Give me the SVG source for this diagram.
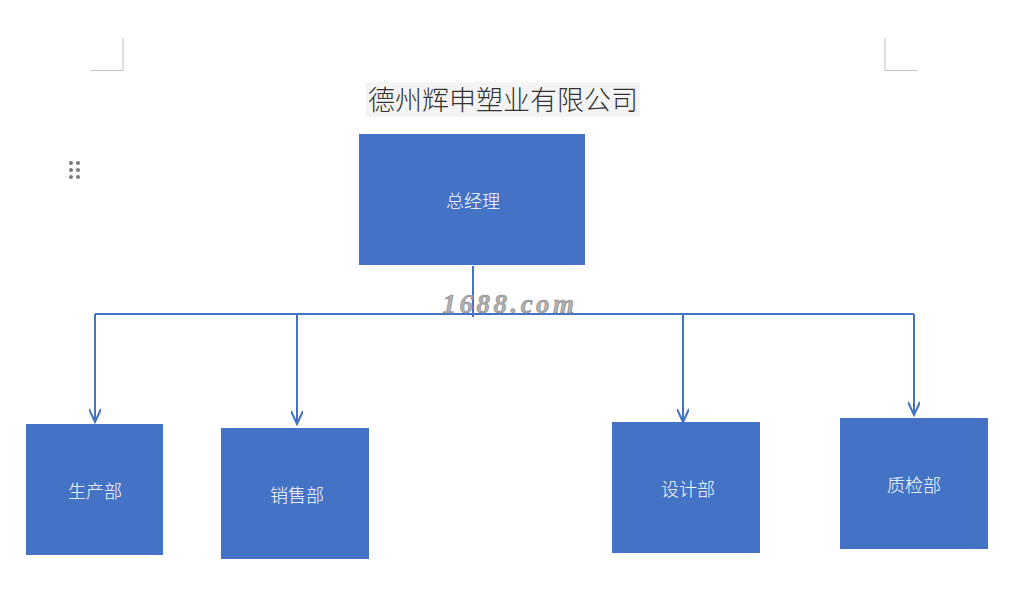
<svg xmlns="http://www.w3.org/2000/svg" width="1017" height="605" viewBox="0 0 1017 605">
<style>
.box{fill:#4472C4;}
.lbl{font-family:"Noto Sans CJK SC","Noto Sans",sans-serif;font-size:18px;font-weight:300;fill:#ffffff;text-anchor:middle;dominant-baseline:central;}
.conn{stroke:#4472C4;stroke-width:2;fill:none;}
.corner{stroke:#bfbfbf;stroke-width:1;fill:none;}
</style>
<defs>
<marker id="arr" markerWidth="16" markerHeight="12" refX="14" refY="6" orient="auto" markerUnits="userSpaceOnUse">
<path d="M1,0 L14,6 L1,12" fill="none" stroke="#4472C4" stroke-width="2"/>
</marker>
</defs>
<rect width="1017" height="605" fill="#ffffff"/>
<g id="corners">
<path class="corner" d="M123,38 V70.5 H91"/>
<path class="corner" d="M885,38 V70.5 H917"/>
</g>
<g id="handle" fill="#7a7a7a">
<circle cx="71" cy="163" r="2"/><circle cx="78" cy="163" r="2"/>
<circle cx="71" cy="170" r="2"/><circle cx="78" cy="170" r="2"/>
<circle cx="71" cy="177" r="2"/><circle cx="78" cy="177" r="2"/>
</g>
<g id="title">
<rect x="366" y="82" width="274" height="35" fill="#f4f4f4"/>
<text x="503" y="98" font-family="Noto Sans CJK SC,sans-serif" font-size="27" font-weight="300" fill="#333333" text-anchor="middle" dominant-baseline="central">德州辉申塑业有限公司</text>
</g>
<g id="connectors">
<path class="conn" d="M473,266 V317"/>
<path class="conn" d="M95,314 H914"/>
<path class="conn" d="M95,314 V422" marker-end="url(#arr)"/>
<path class="conn" d="M297,314 V424" marker-end="url(#arr)"/>
<path class="conn" d="M683,314 V422" marker-end="url(#arr)"/>
<path class="conn" d="M914,314 V415" marker-end="url(#arr)"/>
</g>
<g id="watermark">
<text x="510" y="313" font-family="Liberation Serif,serif" font-size="27" font-style="italic" font-weight="bold" letter-spacing="3.5" fill="#b0b0b0" stroke="#8a8a8a" stroke-width="0.6" text-anchor="middle">1688.com</text>
</g>
<g id="gm">
<rect class="box" x="359" y="134" width="226" height="131"/>
<text class="lbl" x="473" y="200">总经理</text>
</g>
<g id="sc">
<rect class="box" x="26" y="424" width="137" height="131"/>
<text class="lbl" x="95" y="490">生产部</text>
</g>
<g id="xs">
<rect class="box" x="221" y="428" width="148" height="131"/>
<text class="lbl" x="297" y="494">销售部</text>
</g>
<g id="sj">
<rect class="box" x="612" y="422" width="148" height="131"/>
<text class="lbl" x="688" y="488">设计部</text>
</g>
<g id="zj">
<rect class="box" x="840" y="418" width="148" height="131"/>
<text class="lbl" x="914" y="484">质检部</text>
</g>
</svg>
